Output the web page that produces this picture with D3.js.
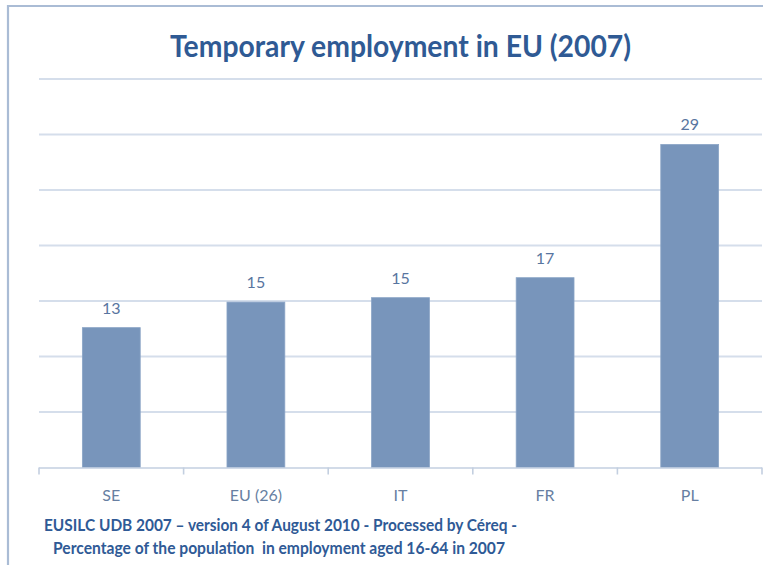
<!DOCTYPE html>
<html>
<head>
<meta charset="utf-8">
<script src="https://cdn.jsdelivr.net/npm/d3@7"></script>
<style>
  html, body { margin: 0; padding: 0; background: #ffffff; }
  svg { display: block; }
  text { white-space: pre; }
</style>
</head>
<body>
<div id="chart"></div>
<script>
// Temporary employment share by country, 2007 (%)
const categories = ["SE", "EU (26)", "IT", "FR", "PL"];
const values = [12.6, 14.9, 15.3, 17.1, 29.1];
const yTicks = [0, 5, 10, 15, 20, 25, 30, 35];

const titleText = "Temporary employment in EU (2007)";
const sourceLines = [
  "EUSILC UDB 2007 \u2013 version 4 of August 2010 - Processed by C\u00e9req -",
  "Percentage of the population  in employment aged 16-64 in 2007"
];

const W = 766, H = 565;
const margin = { left: 39, right: 4, top: 79, bottom: 97 };
const font = "Lato, 'Open Sans', sans-serif";

const svg = d3.select("#chart").append("svg")
  .attr("width", W).attr("height", H);

// slide frame (top and left edges)
svg.append("path")
  .attr("d", `M8,${H} L8,6 L763,6`)
  .attr("fill", "none")
  .attr("stroke", "#aabcd5")
  .attr("stroke-width", 2.2);

const x = d3.scaleBand()
  .domain(categories)
  .range([margin.left, W - margin.right])
  .paddingInner(0.6)
  .paddingOuter(0.3);

const y = d3.scaleLinear()
  .domain([0, 35])
  .range([H - margin.bottom - 0.5, margin.top]);

// horizontal gridlines
svg.append("g")
  .selectAll("line")
  .data(yTicks.slice(1))
  .join("line")
  .attr("x1", margin.left)
  .attr("x2", W - margin.right)
  .attr("y1", d => y(d))
  .attr("y2", d => y(d))
  .attr("stroke", "#d5deeb")
  .attr("stroke-width", 1.8);

// bars
svg.append("g")
  .selectAll("rect")
  .data(values)
  .join("rect")
  .attr("x", (d, i) => x(categories[i]))
  .attr("width", x.bandwidth())
  .attr("y", d => y(d))
  .attr("height", d => y(0) - y(d))
  .attr("fill", "#7895bb")
  .attr("stroke", "#8aa4c6")
  .attr("stroke-width", 0.8);

// value labels
svg.append("g")
  .selectAll("text")
  .data(values)
  .join("text")
  .attr("x", (d, i) => x(categories[i]) + x.bandwidth() / 2)
  .attr("y", d => y(d) - 14)
  .attr("text-anchor", "middle")
  .attr("font-family", font)
  .attr("font-size", 16)
  .attr("fill", "#5875a0")
  .text(d => d3.format(".0f")(d));

// category axis with boundary ticks
const xAxisG = svg.append("g");
xAxisG.append("line")
  .attr("x1", margin.left).attr("x2", W - margin.right)
  .attr("y1", y(0) + 0.5).attr("y2", y(0) + 0.5)
  .attr("stroke", "#c3cfe0").attr("stroke-width", 1.6);
const edges = d3.range(categories.length + 1)
  .map(i => margin.left + i * (W - margin.left - margin.right) / categories.length);
xAxisG.selectAll("line.tick")
  .data(edges)
  .join("line")
  .attr("class", "tick")
  .attr("x1", d => d).attr("x2", d => d)
  .attr("y1", y(0)).attr("y2", y(0) + 7)
  .attr("stroke", "#c3cfe0").attr("stroke-width", 1.6);
xAxisG.selectAll("text")
  .data(categories)
  .join("text")
  .attr("x", d => x(d) + x.bandwidth() / 2)
  .attr("y", y(0) + 33)
  .attr("text-anchor", "middle")
  .attr("font-family", font)
  .attr("font-size", 16)
  .attr("fill", "#677fa2")
  .text(d => d);

// title
svg.append("text")
  .attr("x", 170)
  .attr("y", 57)
  .attr("font-family", font)
  .attr("font-weight", 700)
  .attr("font-size", 31)
  .attr("fill", "#2f5a94")
  .attr("textLength", 461)
  .attr("lengthAdjust", "spacingAndGlyphs")
  .text(titleText);

// source notes
const srcPos = [{ x: 44, y: 531, w: 473 }, { x: 53, y: 554, w: 452 }];
svg.append("g")
  .selectAll("text")
  .data(sourceLines)
  .join("text")
  .attr("x", (d, i) => srcPos[i].x)
  .attr("y", (d, i) => srcPos[i].y)
  .attr("font-family", font)
  .attr("font-weight", 700)
  .attr("font-size", 17)
  .attr("fill", "#2f5a96")
  .attr("textLength", (d, i) => srcPos[i].w)
  .attr("lengthAdjust", "spacingAndGlyphs")
  .text(d => d);
</script>
</body>
</html>
